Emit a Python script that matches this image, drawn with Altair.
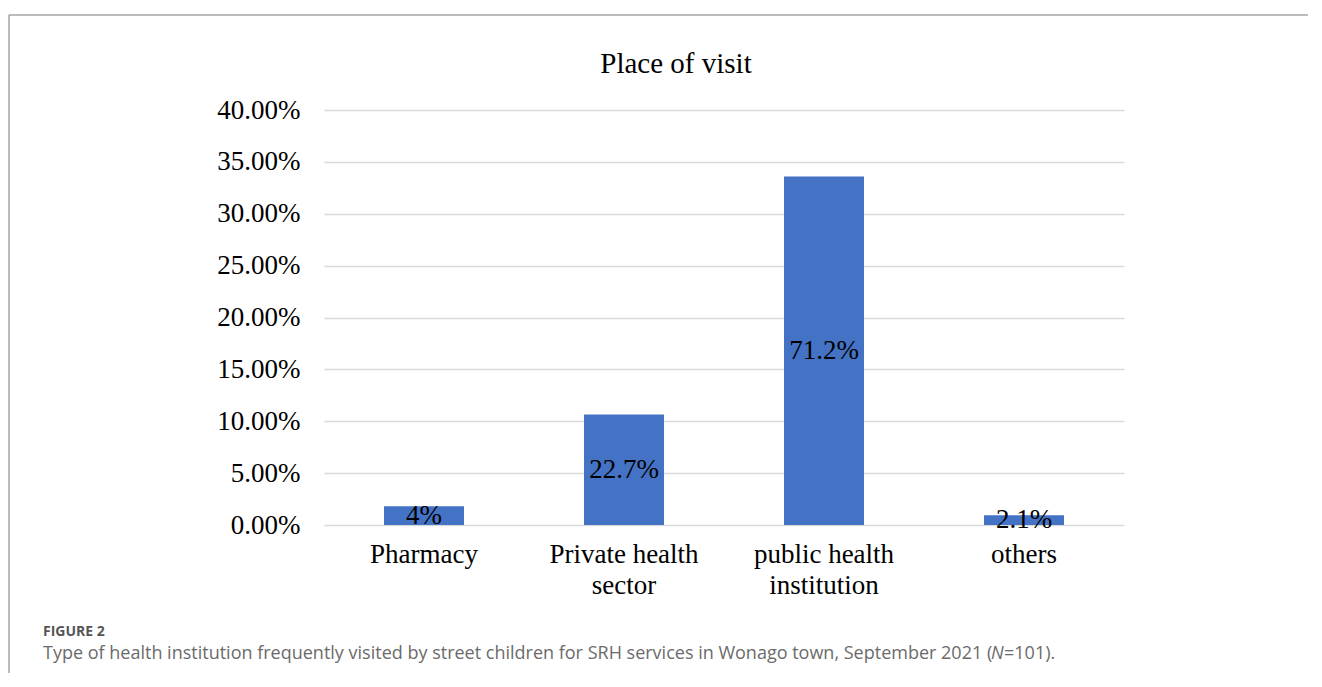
import altair as alt
import pandas as pd

categories = ["Pharmacy", "Private health sector", "public health institution", "others"]
values = [1.8, 10.65, 33.6, 0.95]
labels = ["4%", "22.7%", "71.2%", "2.1%"]
y_ticks = [0, 5, 10, 15, 20, 25, 30, 35, 40]
chart_title = "Place of visit"
fig_label = "FIGURE 2"
caption_a = "Type of health institution frequently visited by street children for SRH services in Wonago town, September 2021 ("
caption_n = "N"
caption_b = "=101)."

df = pd.DataFrame({"place": categories, "value": values, "label": labels})

SERIF = "Liberation Serif"

x_enc = alt.X(
    "place:N",
    sort=categories,
    scale=alt.Scale(paddingInner=0.6, paddingOuter=0.3),
    axis=alt.Axis(
        title=None, labelAngle=0, labelFont=SERIF, labelFontSize=27,
        labelColor="#000000", labelPadding=16, labelLineHeight=31,
        ticks=False, domain=False, grid=False,
        labelExpr="datum.label == 'Private health sector' ? ['Private health', 'sector'] : "
                  "datum.label == 'public health institution' ? ['public health', 'institution'] : datum.label",
    ),
)
y_enc = alt.Y(
    "value:Q",
    scale=alt.Scale(domain=[0, 40], nice=False),
    axis=alt.Axis(
        title=None, values=y_ticks, labelExpr="format(datum.value, '.2f') + '%'",
        labelFont=SERIF, labelFontSize=27, labelColor="#000000", labelPadding=24,
        ticks=False, domain=False, grid=True, gridColor="#d9d9d9", gridWidth=1.5,
    ),
)

base = alt.Chart(df)
bars = base.mark_bar(color="#4472C4").encode(x=x_enc, y=y_enc)
text = base.transform_calculate(mid="datum.value / 2").mark_text(
    font=SERIF, fontSize=27, color="#000000", baseline="middle", align="center"
).encode(x=alt.X("place:N", sort=categories), y=alt.Y("mid:Q"), text="label:N")

one = pd.DataFrame({"t": [chart_title], "f": [fig_label], "a": [caption_a], "n": [caption_n], "b": [caption_b]})
title_mark = alt.Chart(one).mark_text(
    font=SERIF, fontSize=29, color="#000000", align="center", baseline="alphabetic"
).encode(x=alt.value(352), y=alt.value(-37), text="t:N")
fig_mark = alt.Chart(one).mark_text(
    font="Open Sans", fontSize=14, fontWeight="bold", color="#555555", align="left", baseline="middle"
).encode(x=alt.value(-281), y=alt.value(522), text="f:N")
cap_a = alt.Chart(one).mark_text(
    font="Open Sans", fontSize=18, color="#6b6b6b", align="left", baseline="middle"
).encode(x=alt.value(-281), y=alt.value(544), text="a:N")
cap_n = alt.Chart(one).mark_text(
    font="Open Sans", fontSize=18, fontStyle="italic", color="#6b6b6b", align="left", baseline="middle"
).encode(x=alt.value(667), y=alt.value(544), text="n:N")
cap_b = alt.Chart(one).mark_text(
    font="Open Sans", fontSize=18, color="#6b6b6b", align="left", baseline="middle"
).encode(x=alt.value(680), y=alt.value(544), text="b:N")

frame_top = alt.Chart(one).mark_rule(color="#a6a6a6", strokeWidth=1.5).encode(
    x=alt.value(-315), x2=alt.value(984), y=alt.value(-95)
)
frame_left = alt.Chart(one).mark_rule(color="#a6a6a6", strokeWidth=1.5).encode(
    x=alt.value(-315), y=alt.value(-95), y2=alt.value(563)
)

chart = alt.layer(bars, text, title_mark, fig_mark, cap_a, cap_n, cap_b, frame_top, frame_left).properties(
    width=800, height=415,
    padding={"left": 316, "top": 102, "right": 184, "bottom": 148},
    autosize="none",
).configure_view(stroke=None)

chart.save("out.html", embed_options={"renderer": "svg", "actions": False})
